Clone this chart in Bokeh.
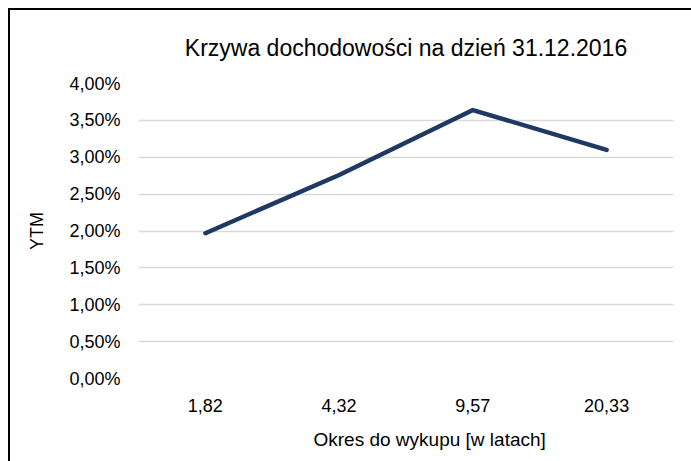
from bokeh.plotting import figure
from bokeh.models import Range1d, FixedTicker, ColumnDataSource, Title
from bokeh.embed import file_html
from bokeh.resources import INLINE

categories = ["1,82", "4,32", "9,57", "20,33"]
ytm = [0.0197, 0.0276, 0.0364, 0.0310]
y_ticks = [0.0, 0.005, 0.01, 0.015, 0.02, 0.025, 0.03, 0.035, 0.04]
y_tick_labels = ["0,00%", "0,50%", "1,00%", "1,50%", "2,00%", "2,50%", "3,00%", "3,50%", "4,00%"]

FONT = "Liberation Sans"

p = figure(x_range=categories, y_range=Range1d(0, 0.04),
           width=682, height=453, output_backend="svg", toolbar_location=None,
           frame_width=535, frame_height=295,
           min_border_left=128, min_border_right=19, min_border_top=73, min_border_bottom=85,
           title="Krzywa dochodowości na dzień 31.12.2016")
p.styles = {"border": "2px solid black", "box-sizing": "border-box", "margin": "8px"}
p.outline_line_color = None
p.background_fill_color = "white"
p.border_fill_color = "white"

p.title.align = "center"
p.title.vertical_align = "middle"
p.title.text_font = FONT
p.title.text_font_size = "23px"
p.title.text_font_style = "normal"
p.title.text_color = "#000000"
p.title.standoff = 44

src = ColumnDataSource(dict(x=categories, y=ytm))
p.line("x", "y", source=src, line_color="#203864", line_width=4.5, line_join="round", line_cap="round")

p.yaxis.ticker = FixedTicker(ticks=y_ticks)
p.yaxis.major_label_overrides = {t: l for t, l in zip(y_ticks, y_tick_labels)}
for ax in (p.xaxis, p.yaxis):
    ax.axis_line_color = None
    ax.major_tick_line_color = None
    ax.minor_tick_line_color = None
    ax.major_label_text_font = FONT
    ax.major_label_text_font_size = "18px"
    ax.major_label_text_color = "#000000"
    ax.axis_label_text_font = FONT
    ax.axis_label_text_font_size = "18px"
    ax.axis_label_text_font_style = "normal"
    ax.axis_label_text_color = "#000000"

p.yaxis.axis_label = "YTM"
p.yaxis.major_label_standoff = 12
p.yaxis.axis_label_standoff = 19
p.xaxis.major_label_standoff = 14

xtitle = Title(text="Okres do wykupu [w latach]", align="left", offset=175,
               text_font=FONT, text_font_size="19px", text_font_style="normal",
               text_color="#000000", standoff=24)
p.add_layout(xtitle, "below")

p.xgrid.grid_line_color = None
p.ygrid.grid_line_color = "#d9d9d9"
p.ygrid.grid_line_width = 1.5

open("out.html", "w").write(file_html(p, INLINE))
